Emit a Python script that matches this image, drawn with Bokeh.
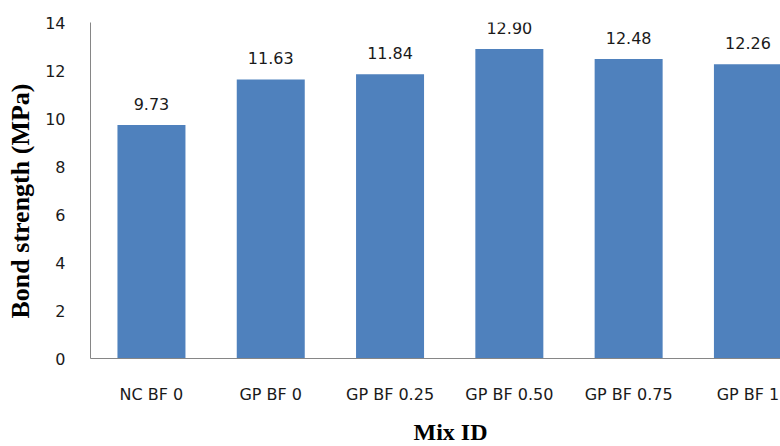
from bokeh.core.properties import value
from bokeh.embed import file_html
from bokeh.models import ColumnDataSource, FixedTicker, LabelSet, Range1d, Title
from bokeh.plotting import figure
from bokeh.resources import INLINE

# Bond strength per mix
mixes = ["NC BF 0", "GP BF 0", "GP BF 0.25", "GP BF 0.50", "GP BF 0.75", "GP BF 1"]
bond_strength = [9.73, 11.63, 11.84, 12.90, 12.48, 12.26]
y_ticks = [0, 2, 4, 6, 8, 10, 12, 14]

positions = list(range(len(mixes)))
source = ColumnDataSource(dict(
    x=positions,
    top=bond_strength,
    label=[f"{v:.2f}" for v in bond_strength],
))

BAR_BLUE = "#4F81BD"
AXIS_GRAY = "#868686"
TEXT = "#1a1a1a"
SANS = "DejaVu Sans"
SERIF = "Liberation Serif"

p = figure(
    width=780, height=446,
    output_backend="svg", toolbar_location=None,
    x_range=Range1d(-0.511, 5.273), y_range=Range1d(0, 14),
    min_border_left=90, min_border_right=0,
    min_border_top=22, min_border_bottom=88,
)
p.outline_line_color = None
p.xgrid.grid_line_color = None
p.ygrid.grid_line_color = None

p.vbar(x="x", top="top", width=0.57, bottom=0, source=source,
       fill_color=BAR_BLUE, line_color=None)

# value labels above each bar
p.add_layout(LabelSet(
    x="x", y="top", text="label", source=source,
    text_align="center", text_baseline="bottom", y_offset=15,
    text_font=value(SANS), text_font_size=value("16px"), text_color=TEXT,
))

# x axis: category names at integer positions
p.xaxis.ticker = FixedTicker(ticks=positions)
p.xaxis.major_label_overrides = {i: m for i, m in enumerate(mixes)}
p.xaxis.major_tick_line_color = None
p.xaxis.minor_tick_line_color = None
p.xaxis.axis_line_color = AXIS_GRAY
p.xaxis.major_label_standoff = 20
p.xaxis.major_label_text_font = SANS
p.xaxis.major_label_text_font_size = "16px"
p.xaxis.major_label_text_color = TEXT

# y axis
p.yaxis.ticker = FixedTicker(ticks=y_ticks)
p.yaxis.major_tick_line_color = None
p.yaxis.minor_tick_line_color = None
p.yaxis.axis_line_color = AXIS_GRAY
p.yaxis.major_label_standoff = 19
p.yaxis.major_label_text_font = SANS
p.yaxis.major_label_text_font_size = "16px"
p.yaxis.major_label_text_color = TEXT

# axis titles
p.add_layout(Title(
    text="Bond strength (MPa)", align="left", offset=40,
    vertical_align="top", standoff=11,
    text_font=SERIF, text_font_style="bold", text_font_size="26px",
    text_color="#000000",
), "left")
p.add_layout(Title(
    text="Mix ID", align="left", offset=323,
    vertical_align="top", standoff=0,
    padding=dict(left=0, right=0, top=12, bottom=0),
    text_font=SERIF, text_font_style="bold", text_font_size="24px",
    text_color="#000000",
), "below")

open("out.html", "w").write(file_html(p, INLINE))
